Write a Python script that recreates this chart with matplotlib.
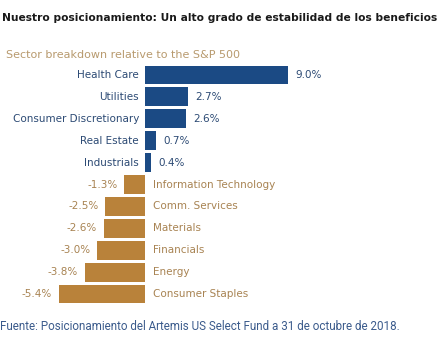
import matplotlib.pyplot as plt

# Sector breakdown relative to the S&P 500
sectors = ["Health Care", "Utilities", "Consumer Discretionary", "Real Estate",
           "Industrials", "Information Technology", "Comm. Services", "Materials",
           "Financials", "Energy", "Consumer Staples"]
values = [9.0, 2.7, 2.6, 0.7, 0.4, -1.3, -2.5, -2.6, -3.0, -3.8, -5.4]

BLUE = "#1b4a84"
GOLD = "#b9823a"
BLUE_TXT = "#2c4a74"
GOLD_TXT = "#a88352"

fig = plt.figure(figsize=(4.48, 3.49), dpi=100)
ax = fig.add_axes([0, 1 - 305 / 349, 1, 241 / 349])

ypos = list(range(len(sectors)))
colors = [BLUE if v > 0 else GOLD for v in values]
ax.barh(ypos, values, height=0.86, color=colors)

for y, name, v in zip(ypos, sectors, values):
    if v > 0:
        ax.annotate(name, (0, y), xytext=(-6, 0), textcoords="offset pixels",
                    ha="right", va="center", fontsize=7.5, color=BLUE_TXT)
        ax.annotate(f"{v:.1f}%", (v, y), xytext=(7, 0), textcoords="offset pixels",
                    ha="left", va="center", fontsize=7.5, color=BLUE_TXT)
    else:
        ax.annotate(name, (0, y), xytext=(8, 0), textcoords="offset pixels",
                    ha="left", va="center", fontsize=7.5, color=GOLD_TXT)
        ax.annotate(f"{v:.1f}%", (v, y), xytext=(-7, 0), textcoords="offset pixels",
                    ha="right", va="center", fontsize=7.5, color=GOLD_TXT)

ax.set_xlim(-145 / 15.9, (448 - 145) / 15.9)
ax.set_ylim(len(sectors) - 0.5, -0.5)
ax.axis("off")

fig.text(2 / 448, 1 - 18 / 349, "Nuestro posicionamiento: Un alto grado de estabilidad de los beneficios",
         fontsize=7.65, fontweight="bold", color="#1a1a1a", ha="left", va="center")
fig.text(6 / 448, 1 - 55 / 349, "Sector breakdown relative to the S&P 500",
         fontsize=8, color="#b89a6e", ha="left", va="center")
fig.text(0, 1 - 327 / 349, "Fuente: Posicionamiento del Artemis US Select Fund a 31 de octubre de 2018.",
         fontsize=8.4, color="#3b5b8c", family="Roboto", ha="left", va="center")

plt.savefig("out.png", dpi=100)
